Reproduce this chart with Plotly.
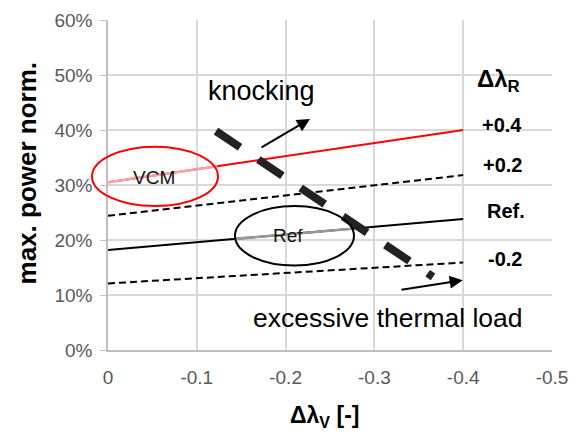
import plotly.graph_objects as go

# ---- data ----
x_ends = [0, -0.4]
line_p04 = [0.305, 0.40]
line_p02 = [0.244, 0.318]
line_ref = [0.182, 0.238]
line_m02 = [0.121, 0.159]

vcm_x = [0, -0.123]
vcm_y = [0.305, 0.334]
refseg_x = [-0.143, -0.275]
refseg_y = [0.202, 0.2205]

limit_x = [-0.1216, -0.366]
limit_y = [0.398, 0.133]

x_ticks = [0, -0.1, -0.2, -0.3, -0.4, -0.5]
x_ticktext = ["0", "-0.1", "-0.2", "-0.3", "-0.4", "-0.5"]
y_ticks = [0, 0.1, 0.2, 0.3, 0.4, 0.5, 0.6]
y_ticktext = ["0%", "10%", "20%", "30%", "40%", "50%", "60%"]

right_labels = ["+0.4", "+0.2", "Ref.", "-0.2"]

fig = go.Figure()
fig.add_trace(go.Scatter(x=x_ends, y=line_m02, mode="lines",
                         line=dict(color="#000000", width=2, dash="7px,4px")))
fig.add_trace(go.Scatter(x=x_ends, y=line_ref, mode="lines",
                         line=dict(color="#000000", width=2)))
fig.add_trace(go.Scatter(x=x_ends, y=line_p02, mode="lines",
                         line=dict(color="#000000", width=2, dash="7px,4px")))
fig.add_trace(go.Scatter(x=x_ends, y=line_p04, mode="lines",
                         line=dict(color="#ff0000", width=2)))
fig.add_trace(go.Scatter(x=vcm_x, y=vcm_y, mode="lines",
                         line=dict(color="#f5a3a3", width=2.6)))
fig.add_trace(go.Scatter(x=refseg_x, y=refseg_y, mode="lines",
                         line=dict(color="#999999", width=2.6)))

# ellipses (paper coords so they are not clipped)
fig.add_shape(type="circle", xref="paper", yref="paper",
              x0=-0.036, x1=0.2477, y0=0.436, y1=0.616,
              line=dict(color="#ff0000", width=2), layer="above")
fig.add_shape(type="circle", xref="paper", yref="paper",
              x0=0.286, x1=0.554, y0=0.256, y1=0.436,
              line=dict(color="#000000", width=2), layer="above")

fig.add_trace(go.Scatter(x=limit_x, y=limit_y, mode="lines",
                         line=dict(color="#222222", width=8, dash="29px,22px")))

ann = []
# arrows
ann.append(dict(x=-0.2275, y=0.420, ax=-0.1712, ay=0.367, xref="x", yref="y",
                axref="x", ayref="y", showarrow=True, arrowhead=2, arrowsize=1.3,
                arrowwidth=2, arrowcolor="#000000", text=""))
ann.append(dict(x=-0.3994, y=0.127, ax=-0.3288, ay=0.109, xref="x", yref="y",
                axref="x", ayref="y", showarrow=True, arrowhead=2, arrowsize=1.3,
                arrowwidth=2, arrowcolor="#000000", text=""))

def txt(t, x, y, size, bold=False, color="#000000", angle=0):
    return dict(text=f"<b>{t}</b>" if bold else t, x=x, y=y, xref="paper", yref="paper",
                showarrow=False, xanchor="center", yanchor="middle", textangle=angle,
                font=dict(family="Liberation Sans, Arial", size=size, color=color))

ann.append(txt("knocking", 0.3453, 0.786, 27))
ann.append(txt("excessive thermal load", 0.631, 0.097, 26.5))
ann.append(txt("VCM", 0.1036, 0.524, 19, color="#111111"))
ann.append(txt("Ref", 0.4065, 0.3455, 19, color="#111111"))
ann.append(txt("Δλ<sub>R</sub>", 0.8806, 0.818, 24, bold=True))
for lab, (px, py) in zip(right_labels, [(0.8885, 0.6833), (0.8885, 0.5606),
                                         (0.8964, 0.4212), (0.894, 0.2758)]):
    ann.append(txt(lab, px, py, 20, bold=True))
ann.append(txt("max. power norm.", -0.1824, 0.535, 26, bold=True, angle=-90))
ann.append(txt("Δλ<sub>V</sub> [-]", 0.4887, -0.203, 23, bold=True))

fig.update_layout(
    width=579, height=434,
    margin=dict(l=108, r=27, t=20, b=84),
    paper_bgcolor="white", plot_bgcolor="white",
    showlegend=False,
    annotations=ann,
    font=dict(family="Liberation Sans, Arial", color="#595959"),
    xaxis=dict(range=[0, -0.5], tickvals=x_ticks, ticktext=x_ticktext,
               showgrid=True, gridcolor="#d9d9d9", gridwidth=1.5, zeroline=False,
               showline=True, linecolor="#bfbfbf", linewidth=1.5,
               ticks="", tickfont=dict(size=19, color="#595959"),
               ticklabelstandoff=9, automargin=False),
    yaxis=dict(range=[0, 0.6], tickvals=y_ticks, ticktext=y_ticktext,
               showgrid=True, gridcolor="#d9d9d9", gridwidth=1.5, zeroline=False,
               showline=True, linecolor="#bfbfbf", linewidth=1.5,
               ticks="outside", ticklen=6, tickcolor="#bfbfbf",
               tickfont=dict(size=19, color="#595959"),
               ticklabelstandoff=4, automargin=False),
)

fig.write_html("out.html", config={"displayModeBar": False},
               post_script="document.body.style.margin='0';document.body.style.overflow='hidden';")
